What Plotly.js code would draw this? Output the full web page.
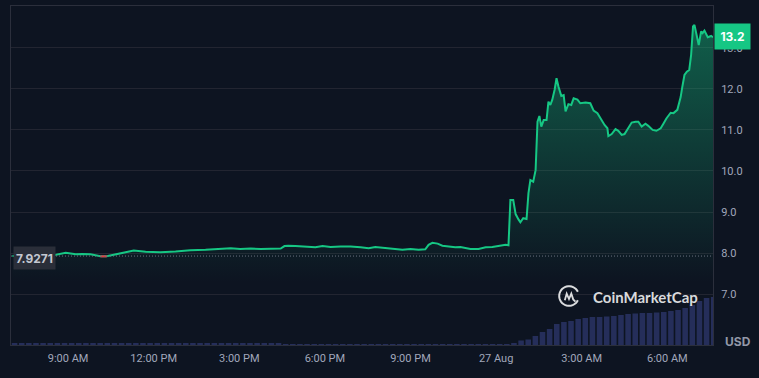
<!DOCTYPE html>
<html>
<head>
<meta charset="utf-8">
<script src="https://cdn.plot.ly/plotly-3.0.1.min.js"></script>
<style>
  html, body { margin: 0; padding: 0; background: #0d1421; }
  #chart { width: 759px; height: 378px; }
</style>
</head>
<body>
<div id="chart"></div>
<script>
// ---- data ----
const priceTimes = [
  "2024-08-26 07:03","2024-08-26 07:41","2024-08-26 08:13","2024-08-26 08:30","2024-08-26 08:55",
  "2024-08-26 09:16","2024-08-26 09:30","2024-08-26 09:47","2024-08-26 10:08","2024-08-26 10:21",
  "2024-08-26 10:34","2024-08-26 10:50","2024-08-26 11:18","2024-08-26 11:43","2024-08-26 12:14",
  "2024-08-26 12:46","2024-08-26 13:17","2024-08-26 13:49","2024-08-26 14:20","2024-08-26 14:42",
  "2024-08-26 15:02","2024-08-26 15:24","2024-08-26 15:45","2024-08-26 16:06","2024-08-26 16:27",
  "2024-08-26 16:35","2024-08-26 16:43","2024-08-26 16:58","2024-08-26 17:19","2024-08-26 17:40",
  "2024-08-26 17:55","2024-08-26 18:12","2024-08-26 18:33","2024-08-26 18:54","2024-08-26 19:15",
  "2024-08-26 19:32","2024-08-26 19:46","2024-08-26 20:07","2024-08-26 20:28","2024-08-26 20:43",
  "2024-08-26 21:00","2024-08-26 21:17","2024-08-26 21:31","2024-08-26 21:38","2024-08-26 21:46",
  "2024-08-26 21:57","2024-08-26 22:07","2024-08-26 22:24","2024-08-26 22:34","2024-08-26 22:45",
  "2024-08-26 22:56","2024-08-26 23:06","2024-08-26 23:23","2024-08-26 23:38","2024-08-26 23:52",
  "2024-08-27 00:09","2024-08-27 00:20","2024-08-27 00:26","2024-08-27 00:30","2024-08-27 00:36",
  "2024-08-27 00:41","2024-08-27 00:47","2024-08-27 00:51","2024-08-27 00:57","2024-08-27 01:04",
  "2024-08-27 01:08","2024-08-27 01:12","2024-08-27 01:18","2024-08-27 01:23","2024-08-27 01:27",
  "2024-08-27 01:31","2024-08-27 01:35","2024-08-27 01:40","2024-08-27 01:46","2024-08-27 01:50",
  "2024-08-27 01:54","2024-08-27 01:58","2024-08-27 02:03","2024-08-27 02:07","2024-08-27 02:11",
  "2024-08-27 02:17","2024-08-27 02:22","2024-08-27 02:26","2024-08-27 02:32","2024-08-27 02:38",
  "2024-08-27 02:43","2024-08-27 02:51","2024-08-27 02:57","2024-08-27 03:08","2024-08-27 03:18",
  "2024-08-27 03:25","2024-08-27 03:33","2024-08-27 03:39","2024-08-27 03:48","2024-08-27 03:54",
  "2024-08-27 03:56","2024-08-27 04:03","2024-08-27 04:11","2024-08-27 04:17","2024-08-27 04:24",
  "2024-08-27 04:30","2024-08-27 04:36","2024-08-27 04:45","2024-08-27 04:53","2024-08-27 04:59",
  "2024-08-27 05:06","2024-08-27 05:14","2024-08-27 05:20","2024-08-27 05:29","2024-08-27 05:37",
  "2024-08-27 05:46","2024-08-27 05:52","2024-08-27 05:58","2024-08-27 06:07","2024-08-27 06:13",
  "2024-08-27 06:21","2024-08-27 06:28","2024-08-27 06:31","2024-08-27 06:36","2024-08-27 06:41",
  "2024-08-27 06:46","2024-08-27 06:50","2024-08-27 06:54","2024-08-27 06:57","2024-08-27 07:01",
  "2024-08-27 07:06","2024-08-27 07:11","2024-08-27 07:14","2024-08-27 07:18","2024-08-27 07:22",
  "2024-08-27 07:25","2024-08-27 07:32","2024-08-27 07:36"
];
const priceValues = [
  7.93,7.95,7.96,7.95,8.01,
  7.97,7.98,7.97,7.92,7.92,
  7.95,8.00,8.06,8.03,8.02,
  8.04,8.07,8.08,8.10,8.12,
  8.10,8.11,8.10,8.10,8.11,
  8.17,8.18,8.17,8.15,8.14,
  8.17,8.15,8.16,8.16,8.14,
  8.12,8.15,8.13,8.11,8.08,
  8.10,8.08,8.09,8.20,8.25,
  8.23,8.18,8.15,8.14,8.15,
  8.12,8.10,8.10,8.14,8.15,
  8.19,8.20,8.19,9.29,9.29,
  8.95,8.82,8.75,8.85,8.83,
  9.46,9.78,9.74,10.02,11.20,
  11.34,11.08,11.24,11.24,11.69,
  11.61,11.73,11.98,12.26,12.06,
  11.83,11.85,11.45,11.63,11.61,
  11.77,11.74,11.65,11.67,11.65,
  11.47,11.41,11.29,11.12,11.04,
  10.85,10.90,11.02,10.98,10.88,
  10.90,11.00,11.18,11.20,11.20,
  11.08,11.15,11.10,11.00,10.98,
  11.04,11.16,11.28,11.42,11.41,
  11.49,11.80,12.02,12.34,12.42,
  12.46,12.83,13.52,13.56,13.32,
  13.07,13.40,13.36,13.42,13.32,
  13.26,13.29,13.26
];
const openPrice = 7.9271;
const lastPriceLabel = "13.2";

// volume bars, 15-minute buckets starting at volumeStart
const volumeStart = "2024-08-26 07:07:30";
const volumeStepMinutes = 15;
const volumeValues = [
  20,20,20,20,20,20,20,20,20,20,
  20,20,20,20,20,20,20,20,20,20,
  20,20,20,20,20,20,20,20,20,20,
  20,20,20,20,20,20,20,20,10,10,
  10,10,10,10,10,10,10,10,10,10,
  10,10,10,10,10,10,10,10,10,10,
  10,10,10,10,10,10,10,10,10,10,
  20,45,55,90,130,160,210,230,240,260,
  270,280,280,285,290,300,310,315,320,320,
  325,330,340,350,370,400,440,470,480
];

const xTickVals = ["2024-08-26 09:00","2024-08-26 12:00","2024-08-26 15:00","2024-08-26 18:00",
                   "2024-08-26 21:00","2024-08-27 00:00","2024-08-27 03:00","2024-08-27 06:00"];
const xTickText = ["9:00 AM","12:00 PM","3:00 PM","6:00 PM","9:00 PM","27 Aug","3:00 AM","6:00 AM"];
const yTickVals = [7,8,9,10,11,12,13];
const yTickText = ["7.0","8.0","9.0","10.0","11.0","12.0","13.0"];

// ---- build ----
function addMinutes(str, m) {
  const d = new Date(str.replace(" ", "T") + "Z");
  d.setUTCMinutes(d.getUTCMinutes() + m);
  return d.toISOString().replace("T", " ").slice(0, 19);
}
const volumeTimes = volumeValues.map((_, i) => addMinutes(volumeStart, i * volumeStepMinutes));
const belowOpen = priceValues.map(v => (v < openPrice ? v : null));

const W = 759, H = 378;
const L = 11, R = 46, T = 6, B = 33;
const PW = W - L - R, PH = H - T - B;
const px = x => (x - L) / PW;
const py = y => (H - B - y) / PH;

const GREEN = "#16c784";
const LOGO = "rgba(255,255,255,0.85)";
const NOFILL = "rgba(0,0,0,0)";

const traces = [
  {
    type: "bar", x: volumeTimes, y: volumeValues, yaxis: "y2",
    marker: { color: "#252e5a", line: { width: 0 } },
    hoverinfo: "skip", showlegend: false
  },
  {
    type: "scatter", mode: "lines", x: priceTimes, y: priceValues,
    line: { color: GREEN, width: 2, shape: "linear" },
    fill: "tozeroy",
    fillgradient: {
      type: "vertical", start: 7.3, stop: 13.6,
      colorscale: [[0, "rgba(22,199,132,0)"], [1, "rgba(22,199,132,0.42)"]]
    },
    showlegend: false, hoverinfo: "skip"
  },
  {
    type: "scatter", mode: "lines", x: priceTimes, y: belowOpen,
    line: { color: "#ea3943", width: 2 }, connectgaps: false,
    showlegend: false, hoverinfo: "skip"
  }
];

// CoinMarketCap logo: open ring + wave (pixel geometry -> paper fractions)
const LCX = 569, LCY = 296, LR = 9.8;
const ringPts = [];
for (let a = -25; a >= -335; a -= 10) {
  const r = a * Math.PI / 180;
  ringPts.push([LCX + LR * Math.cos(r), LCY - LR * Math.sin(r)]);
}
// ringPts go clockwise in screen from lower-right? build as polyline
const toPath = pts => "M " + pts.map(p => px(p[0]).toFixed(5) + "," + py(p[1]).toFixed(5)).join(" L ");
const wave = [[564.8,300.2],[566.7,293.6],[569,299],[571.3,293.6],[573.2,299.4],[575.4,301.6]];

const layout = {
  width: W, height: H,
  margin: { l: L, r: R, t: T, b: B, pad: 0 },
  paper_bgcolor: "#0d1421", plot_bgcolor: "#0d1421",
  bargap: 0.22,
  xaxis: {
    type: "date",
    range: ["2024-08-26 07:00", "2024-08-27 07:36"],
    tickvals: xTickVals, ticktext: xTickText,
    showgrid: false, zeroline: false, ticks: "",
    showline: true, linecolor: "#2b2f3c", linewidth: 1, mirror: true,
    tickfont: { family: "Roboto, Inter, sans-serif", size: 11, color: "#a1a7bb" },
    ticklabelstandoff: 3, fixedrange: true
  },
  yaxis: {
    range: [5.76, 14.02], side: "right",
    tickvals: yTickVals, ticktext: yTickText,
    showgrid: true, gridcolor: "#222531", gridwidth: 1,
    zeroline: false, ticks: "",
    showline: true, linecolor: "#2b2f3c", linewidth: 1, mirror: true,
    tickfont: { family: "Roboto, Inter, sans-serif", size: 11, color: "#a1a7bb" },
    ticklabelstandoff: 5, fixedrange: true
  },
  yaxis2: {
    overlaying: "y", range: [0, 3390], visible: false, showgrid: false, fixedrange: true
  },
  shapes: [
    { type: "line", xref: "paper", yref: "y", x0: 0, x1: 1, y0: openPrice, y1: openPrice,
      line: { color: "#6b7180", width: 1, dash: "1px,2px" }, layer: "above" },
    { type: "path", xref: "paper", yref: "paper", path: toPath(ringPts),
      line: { color: LOGO, width: 2 }, fillcolor: NOFILL, layer: "above" },
    { type: "path", xref: "paper", yref: "paper", path: toPath(wave),
      line: { color: LOGO, width: 1.8 }, fillcolor: NOFILL, layer: "above" }
  ],
  annotations: [
    { xref: "paper", yref: "y", x: 1, y: priceValues[priceValues.length - 1],
      xanchor: "left", yanchor: "middle", xshift: 1, yshift: 1,
      text: "<b>" + lastPriceLabel + "</b>", showarrow: false,
      bgcolor: GREEN, width: 35, height: 25, borderpad: 0,
      font: { family: "Inter, Roboto, sans-serif", size: 12, color: "#ffffff" } },
    { xref: "paper", yref: "y", x: 0, y: openPrice,
      xanchor: "left", yanchor: "middle", xshift: 2, yshift: -1.5,
      text: "<b>" + openPrice.toString() + "</b>", showarrow: false,
      bgcolor: "#2a2e39", width: 41, height: 22, borderpad: 0,
      font: { family: "Inter, Roboto, sans-serif", size: 12, color: "#c3c7d1" } },
    { xref: "paper", yref: "paper", x: 1, y: 0, xanchor: "center", yanchor: "middle",
      xshift: 25, yshift: 4, text: "<b>USD</b>", showarrow: false,
      font: { family: "Inter, Roboto, sans-serif", size: 12, color: "#9298a8" } },
    { xref: "paper", yref: "paper", x: px(590.5), y: py(296.7), xanchor: "left", yanchor: "middle",
      text: "<b>CoinMarketCap</b>", showarrow: false,
      font: { family: "Lato, Inter, sans-serif", size: 15, color: LOGO } }
  ]
};

Plotly.newPlot("chart", traces, layout, { staticPlot: true, displayModeBar: false });
</script>
</body>
</html>
